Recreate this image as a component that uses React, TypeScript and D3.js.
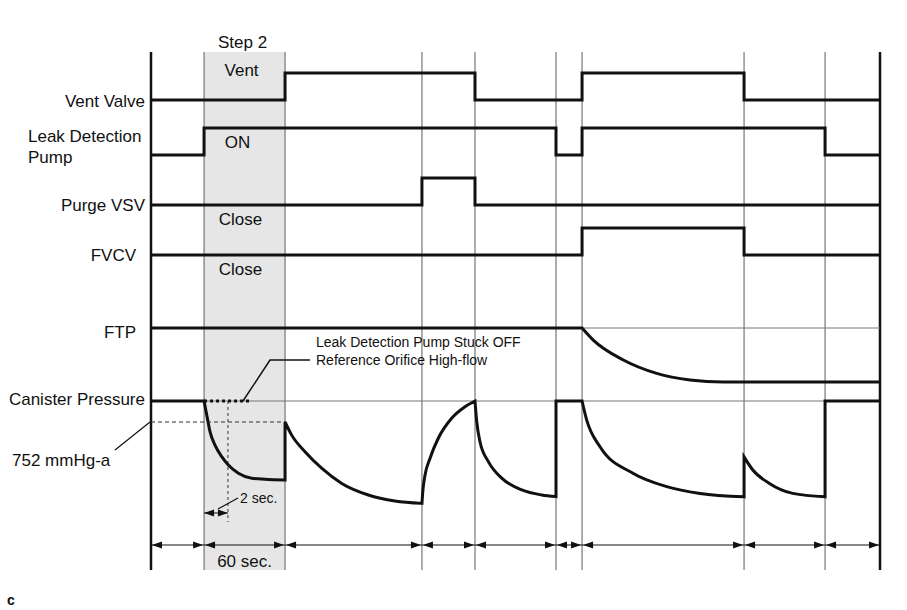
import * as d3 from 'd3'

// time axis (seconds-ish), boundaries between phases
const boundaries = [0, 39.3, 99.3, 200.7, 240, 300, 319.3, 439.3, 499.3, 540]

// on/off state for each phase (0 = low, 1 = high)
const ventValve = [0, 0, 1, 1, 0, 0, 1, 0, 0]
const leakPump = [0, 1, 1, 1, 1, 0, 1, 1, 0]
const purgeVSV = [0, 0, 0, 1, 0, 0, 0, 0, 0]
const fvcv = [0, 0, 0, 0, 0, 0, 1, 0, 0]

// pressures, mmHg-a
const atm = 760
const refPressure = 752
const canisterFlat1 = [[0, 760], [39.3, 760]]
const canisterStep2 = [[39.3, 760], [41.3, 754.7], [43.7, 748.3], [47.4, 743.2], [52.4, 738.8], [57.3, 735.6], [64.7, 732.5], [74.6, 730.6], [84.4, 730.2], [99.3, 729.9]]
const canisterStep3 = [[99.3, 752], [104.2, 747], [114.1, 740.7], [126.4, 734.4], [141.3, 728.6], [161, 724.2], [180.7, 721.9], [200.7, 721]]
const canisterRise = [[200.7, 721], [201.3, 725.4], [203, 731.8], [206.7, 738.2], [212.8, 745.8], [222.7, 753.4], [232.6, 757.8], [240, 760]]
const canisterDecay1 = [[240, 760], [241.3, 752.1], [243.7, 744.5], [249.9, 736.9], [259.8, 730.6], [274.6, 726.1], [289.4, 724.2], [300, 723.6]]
const canisterFlat2 = [[300, 760], [319.3, 760]]
const canisterDecay2 = [[319.3, 760], [322.7, 752.8], [332.6, 742.6], [357.3, 732.4], [382, 727.4], [406.7, 724.8], [439.3, 723.5]]
const canisterDecay3 = [[439.3, 738.7], [445.8, 733.7], [458.1, 728.6], [475.4, 724.8], [499.3, 723.5]]
const canisterFlat3 = [[499.3, 760], [540, 760]]
const ftpFlat = [[0, 760], [319.3, 760]]
const ftpDecay = [[319.3, 760], [327.6, 755.4], [349.9, 747.8], [374.6, 742.7], [399.3, 740.2], [423.9, 739.4], [540, 739.4]]

const stuckOffEnd = 73
const twoSecEnd = 57

const W = 907
const H = 610
const FONT = '"Liberation Sans", Arial, Helvetica, sans-serif'
const TOP = 52
const BOTTOM = 570

const x = d3.scaleLinear().domain([0, 540]).range([151, 880])
const rowScale = (base: number) => d3.scaleLinear().domain([0, 1]).range([base, base - 27])
const yVent = rowScale(100)
const yPump = rowScale(155)
const yPurge = rowScale(205)
const yFvcv = rowScale(255)
const yCan = d3.scaleLinear().domain([atm, refPressure]).range([401, 422])
const yFtp = d3.scaleLinear().domain([atm, refPressure]).range([328, 349])

function stepPath(states: number[], y: d3.ScaleLinear<number, number>) {
  const pts: [number, number][] = states.map((s, i) => [boundaries[i], s])
  pts.push([boundaries[boundaries.length - 1], states[states.length - 1]])
  return d3.line<[number, number]>().x(d => x(d[0])).y(d => y(d[1])).curve(d3.curveStepAfter)(pts) || ''
}

function joinedPath(segs: number[][][], y: d3.ScaleLinear<number, number>) {
  const line = d3.line<number[]>().x(d => x(d[0])).y(d => y(d[1])).curve(d3.curveMonotoneX)
  return segs.map((s, i) => {
    const p = line(s) || ''
    return i === 0 ? p : 'L' + p.slice(1)
  }).join('')
}

function arrowHead(tipX: number, y: number, dir: number) {
  const len = 10
  const hw = 3.5
  return `M${tipX},${y}L${tipX - dir * len},${y - hw}L${tipX - dir * len},${y + hw}Z`
}

export default function App() {
  const arrowY = 545
  const gridX = boundaries.slice(1, -1).map(b => x(b))
  const canPath = joinedPath(
    [canisterFlat1, canisterStep2, canisterStep3, canisterRise, canisterDecay1, canisterFlat2, canisterDecay2, canisterDecay3, canisterFlat3],
    yCan,
  )
  const ftpPath = joinedPath([ftpFlat, ftpDecay], yFtp)
  const x0 = x(boundaries[0])
  const xEnd = x(boundaries[boundaries.length - 1])
  const s2a = x(boundaries[1])
  const s2b = x(boundaries[2])
  const s2mid = (s2a + s2b) / 2
  const twoX = x(twoSecEnd)

  const labelStyle = { fontFamily: FONT, fontSize: 17, fill: '#111' }
  const smallStyle = { fontFamily: FONT, fontSize: 14, fill: '#111' }

  return (
    <svg width={W} height={H} style={{ position: 'absolute', left: 0, top: 0, background: '#fff' }}>
      {/* Step 2 band */}
      <rect x={s2a} y={TOP} width={s2b - s2a} height={BOTTOM - TOP} fill="#e6e6e6" />
      {/* grid lines */}
      {gridX.map((gx, i) => (
        <line key={i} x1={gx} x2={gx} y1={TOP} y2={BOTTOM} stroke="#6a6a6a" strokeWidth={1.1} />
      ))}
      <line x1={x0} x2={x0} y1={TOP} y2={BOTTOM} stroke="#111" strokeWidth={2.5} />
      <line x1={xEnd} x2={xEnd} y1={TOP} y2={BOTTOM} stroke="#111" strokeWidth={2.5} />

      {/* thin reference lines */}
      <line x1={x0} x2={xEnd} y1={yCan(atm)} y2={yCan(atm)} stroke="#777" strokeWidth={1} />
      <line x1={x0} x2={xEnd} y1={yFtp(atm)} y2={yFtp(atm)} stroke="#777" strokeWidth={1} />
      <line x1={x0} x2={s2b} y1={yCan(refPressure)} y2={yCan(refPressure)} stroke="#333" strokeWidth={1} strokeDasharray="4,3" />
      <line x1={twoX} x2={twoX} y1={yCan(atm)} y2={522} stroke="#333" strokeWidth={1} strokeDasharray="3,3" />

      {/* signals */}
      <g fill="none" stroke="#111" strokeWidth={3}>
        <path d={stepPath(ventValve, yVent)} />
        <path d={stepPath(leakPump, yPump)} />
        <path d={stepPath(purgeVSV, yPurge)} />
        <path d={stepPath(fvcv, yFvcv)} />
        <path d={ftpPath} />
        <path d={canPath} />
        <line x1={s2a} x2={x(stuckOffEnd)} y1={yCan(atm)} y2={yCan(atm)} strokeDasharray="3,3" />
      </g>

      {/* stuck-off callout */}
      <polyline points="243,401 270,360 310,360" fill="none" stroke="#111" strokeWidth={1.5} />
      <text x={316} y={347} style={smallStyle}>Leak Detection Pump Stuck OFF</text>
      <text x={316} y={365} style={smallStyle}>Reference Orifice High-flow</text>

      {/* 2 sec marker */}
      <line x1={s2a} x2={twoX} y1={513} y2={513} stroke="#111" strokeWidth={1} />
      <path d={arrowHead(s2a, 513, -1)} fill="#111" />
      <path d={arrowHead(twoX, 513, 1)} fill="#111" />
      <line x1={218} y1={509} x2={238} y2={498} stroke="#111" strokeWidth={1.2} />
      <text x={240} y={503} style={smallStyle}>2 sec.</text>

      {/* phase duration arrows */}
      {boundaries.slice(0, -1).map((b, i) => {
        const a = x(b)
        const c = x(boundaries[i + 1])
        return (
          <g key={i}>
            <line x1={a} x2={c} y1={arrowY} y2={arrowY} stroke="#111" strokeWidth={1} />
            <path d={arrowHead(a + 1, arrowY, -1)} fill="#111" />
            <path d={arrowHead(c - 1, arrowY, 1)} fill="#111" />
          </g>
        )
      })}

      {/* band texts */}
      <text x={s2mid - 2} y={48} textAnchor="middle" style={labelStyle}>Step 2</text>
      <text x={s2mid - 3} y={76} textAnchor="middle" style={labelStyle}>Vent</text>
      <text x={s2mid - 7} y={148} textAnchor="middle" style={labelStyle}>ON</text>
      <text x={s2mid - 4} y={225} textAnchor="middle" style={labelStyle}>Close</text>
      <text x={s2mid - 4} y={275} textAnchor="middle" style={labelStyle}>Close</text>
      <text x={s2mid} y={567} textAnchor="middle" style={labelStyle}>60 sec.</text>

      {/* row labels */}
      <g textAnchor="end">
        <text x={145} y={107} style={labelStyle}>Vent Valve</text>
        <text x={145} y={211} style={labelStyle}>Purge VSV</text>
        <text x={136} y={261} style={labelStyle}>FVCV</text>
        <text x={136} y={338} style={labelStyle}>FTP</text>
        <text x={145} y={405} style={labelStyle}>Canister Pressure</text>
      </g>
      <text x={28} y={142} style={labelStyle}>Leak Detection</text>
      <text x={28} y={163} style={labelStyle}>Pump</text>
      <text x={12} y={466} style={labelStyle}>752 mmHg-a</text>
      <line x1={115} y1={450} x2={150} y2={422} stroke="#111" strokeWidth={1.2} />

      <text x={7} y={605} style={{ fontFamily: FONT, fontSize: 14, fontWeight: 'bold', fill: '#111' }}>c</text>
    </svg>
  )
}
